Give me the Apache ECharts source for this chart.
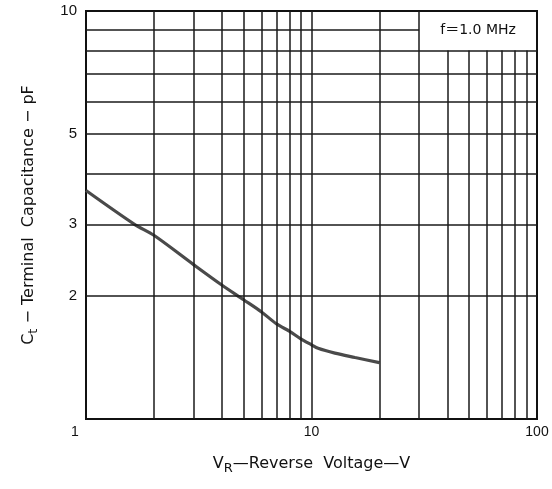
<!DOCTYPE html>
<html><head><meta charset="utf-8">
<script src="https://cdn.jsdelivr.net/npm/echarts@6/dist/echarts.min.js"></script>
<style>html,body{margin:0;padding:0;background:#fff}#c{width:552px;height:489px}</style>
</head><body><div id="c"></div>
<script>
// Data
const voltage = [1, 1.64, 2, 3, 4, 5, 6, 7, 8, 9, 10, 10.7, 12.7, 15.6, 20];
const capacitance = [3.63, 3.0, 2.82, 2.39, 2.13, 1.96, 1.83, 1.71, 1.64, 1.57, 1.52, 1.49, 1.45, 1.415, 1.375];
const xTickLabels = [1, 10, 100];
const yTickLabels = [2, 3, 5, 10];
const xGridFull = [2, 3, 4, 5, 6, 7, 8, 9, 10, 20, 30];
const xGridShort = [40, 50, 60, 70, 80, 90];
const yGridFull = [2, 3, 4, 5, 6, 7, 8];
const yGridShort = [9];
const noteText = 'f\uFF1D1.0 MHz';
const xTitle = 'V{sub|R}\u2014Reverse  Voltage\u2014V';
const yTitle = 'C{sub|t} \u2212 Terminal  Capacitance \u2212 pF';

const FONT = "'Liberation Sans', Arial, 'Noto Sans CJK JP', sans-serif";
const TFONT = "'DejaVu Sans', 'Liberation Sans', 'Noto Sans CJK JP', sans-serif";
const gridStyle = { color: '#1a1a1a', width: 1.5, type: 'solid' };

const gridLines = [];
xGridFull.forEach(v => gridLines.push([{ coord: [v, 1] }, { coord: [v, 10] }]));
xGridShort.forEach(v => gridLines.push([{ coord: [v, 1] }, { coord: [v, 8] }]));
yGridFull.forEach(v => gridLines.push([{ coord: [1, v] }, { coord: [100, v] }]));
yGridShort.forEach(v => gridLines.push([{ coord: [1, v] }, { coord: [30, v] }]));

const chart = echarts.init(document.getElementById('c'), null, { renderer: 'canvas' });
chart.setOption({
  animation: false,
  backgroundColor: '#fff',
  textStyle: { fontFamily: FONT },
  grid: { left: 86, right: 15, top: 11, bottom: 70, show: true, borderColor: '#111', borderWidth: 2, backgroundColor: 'transparent' },
  xAxis: {
    type: 'log', logBase: 10, min: 1, max: 100,
    axisLine: { show: false }, axisTick: { show: false }, splitLine: { show: false },
    axisLabel: { customValues: xTickLabels, color: '#111', fontSize: 14, margin: 6, fontFamily: FONT,
      formatter: v => (Math.abs(v - 1) < 1e-9 ? '{l|1}' : String(Math.round(v))),
      rich: { l: { padding: [0, 22, 0, 0], fontSize: 14, color: '#111', fontFamily: FONT } } },
    name: xTitle, nameLocation: 'middle', nameGap: 34,
    nameTextStyle: { fontSize: 16, color: '#111', fontFamily: TFONT,
      rich: { sub: { fontSize: 13, padding: [9, 0, 0, 0], color: '#111', fontFamily: TFONT } } }
  },
  yAxis: {
    type: 'log', logBase: 10, min: 1, max: 10,
    axisLine: { show: false }, axisTick: { show: false }, splitLine: { show: false },
    axisLabel: { customValues: yTickLabels, color: '#111', fontSize: 15, margin: 9, fontFamily: FONT,
      formatter: v => String(Math.round(v)) },
    name: yTitle, nameLocation: 'middle', nameGap: 46,
    nameTextStyle: { fontSize: 16, color: '#111', fontFamily: TFONT,
      rich: { sub: { fontSize: 13, padding: [9, 0, 0, 0], color: '#111', fontFamily: TFONT } } }
  },
  series: [
    {
      type: 'line', data: [], z: 1, silent: true,
      markLine: { silent: true, symbol: ['none', 'none'], label: { show: false }, lineStyle: gridStyle, data: gridLines, animation: false },
      markArea: { silent: true, itemStyle: { color: 'rgba(255,255,255,0)' },
        label: { show: true, position: 'inside', formatter: noteText, fontSize: 14, color: '#111', fontFamily: TFONT },
        data: [[{ coord: [30, 8] }, { coord: [100, 10] }]] }
    },
    {
      type: 'line', z: 3, symbol: 'none', smooth: 0.3,
      data: voltage.map((v, i) => [v, capacitance[i]]),
      lineStyle: { color: '#4a4a4a', width: 3.2 }
    }
  ]
});
</script>
</body></html>
